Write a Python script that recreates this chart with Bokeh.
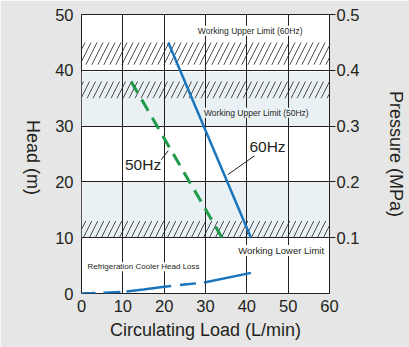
import math
from bokeh.plotting import figure
from bokeh.models import Range1d, LinearAxis, FixedTicker, Label
from bokeh.embed import file_html
from bokeh.resources import INLINE

# ---- data ----
x_ticks = [0, 10, 20, 30, 40, 50, 60]
y_ticks = [0, 10, 20, 30, 40, 50]
p_ticks = [0.1, 0.2, 0.3, 0.4, 0.5]

hz60_x = [21, 41]
hz60_y = [45, 10]
hz50_x = [12, 34]
hz50_y = [38, 10]

loss_dash_x = [0, 5, 10, 15, 20, 25, 30]
loss_dash_y = [0.0, 0.1, 0.3, 0.7, 1.2, 1.6, 2.0]
loss_solid_x = [30, 41]
loss_solid_y = [2.0, 3.7]

# light-blue bands (bottom, top)
band_bottom = [30, 10]
band_top = [39.7, 20]
# hatched limit bands (bottom, top)
hatch_bottom = [41, 35, 10]
hatch_top = [45, 38, 13]

FONT = "Liberation Sans"
DARK = "#231f20"
GRAY_BG = "#e6e6e6"
LIGHT = "#eaf1f5"
BLUE = "#1b75bc"
GREEN = "#1e9a48"

p = figure(width=409, height=347, output_backend="svg", toolbar_location=None,
           x_range=Range1d(0, 60), y_range=Range1d(0, 50),
           min_border_left=81, min_border_right=80, min_border_top=14, min_border_bottom=54)
p.border_fill_color = GRAY_BG
p.background_fill_color = "white"
p.outline_line_color = DARK
p.outline_line_width = 1

# bands
p.quad(left=0, right=60, bottom=band_bottom, top=band_top, fill_color=LIGHT,
       line_color=None, level="image")
p.quad(left=0, right=60, bottom=hatch_bottom, top=hatch_top, fill_alpha=0,
       line_color=None, hatch_pattern="/", hatch_color=DARK, hatch_weight=0.8,
       hatch_scale=12, level="underlay")

# grid
p.xgrid.ticker = FixedTicker(ticks=[10, 20, 30, 40, 50])
p.ygrid.ticker = FixedTicker(ticks=[10, 20, 30, 40])
for g in (p.xgrid, p.ygrid):
    g.grid_line_color = DARK
    g.grid_line_width = 1
    g.grid_line_alpha = 1

# curves
p.line(hz60_x, hz60_y, line_color=BLUE, line_width=2.5)
p.line(hz50_x, hz50_y, line_color=GREEN, line_width=3, line_dash="13 8")
p.line(loss_dash_x, loss_dash_y, line_color=BLUE, line_width=2.5,
       line_dash="14 8 17 6 45 9 16 8")
p.line(loss_solid_x, loss_solid_y, line_color=BLUE, line_width=2.5)

# leader lines
p.line([19.1, 21.0], [23.8, 25.6], line_color=DARK, line_width=1)
p.line([41.9, 35.4], [24.7, 21.3], line_color=DARK, line_width=1)

# axes
def style_axis(ax, standoff, tick_out, label, label_standoff):
    ax.major_label_text_font = FONT
    ax.major_label_text_font_size = "16.5px"
    ax.major_label_text_color = DARK
    ax.major_label_standoff = standoff
    ax.major_tick_in = 0
    ax.major_tick_out = tick_out
    ax.major_tick_line_color = DARK
    ax.minor_tick_line_color = None
    ax.axis_line_color = None
    if label:
        ax.axis_label = label
    ax.axis_label_text_font = FONT
    ax.axis_label_text_font_size = "18px"
    ax.axis_label_text_font_style = "normal"
    ax.axis_label_text_color = DARK
    ax.axis_label_standoff = label_standoff

p.xaxis.ticker = FixedTicker(ticks=x_ticks)
p.yaxis.ticker = FixedTicker(ticks=y_ticks)
style_axis(p.xaxis[0], 6, 0, "Circulating Load (L/min)", 5)
style_axis(p.yaxis[0], 8, 0, None, 19)

p.extra_y_ranges = {"pressure": Range1d(0, 0.5)}
rax = LinearAxis(y_range_name="pressure", ticker=FixedTicker(ticks=p_ticks))
style_axis(rax, 1, 6, "Pressure (MPa)", 24)
rax.axis_line_color = DARK
p.add_layout(rax, "right")

# left title, reading top to bottom, placed in the left side panel
head_label = Label(x=0, y=136, x_units="screen", y_units="screen", text="Head (m)",
                   text_font=FONT, text_font_size="18px", text_color=DARK,
                   text_align="center", text_baseline="middle", angle=-math.pi / 2)
p.add_layout(head_label, "left")

def add_label(x, y, text, size, bg=None):
    lab = Label(x=x, y=y, text=text, text_font=FONT, text_font_size=size,
                text_color=DARK, text_align="center", text_baseline="middle")
    if bg is not None:
        lab.background_fill_color = bg
    p.add_layout(lab)

add_label(40.8, 47.1, "Working Upper Limit (60Hz)", "8.5px", bg="white")
add_label(42.3, 32.4, "Working Upper Limit (50Hz)", "8.5px", bg=LIGHT)
add_label(48.3, 7.7, "Working Lower Limit", "9.5px", bg="white")
add_label(15.0, 4.8, "Refrigeration Cooler Head Loss", "8px", bg="white")
add_label(14.9, 23.1, "50Hz", "15.5px", bg="white")
add_label(45.0, 26.3, "60Hz", "15.5px", bg="white")

open("out.html", "w").write(file_html(p, INLINE))
